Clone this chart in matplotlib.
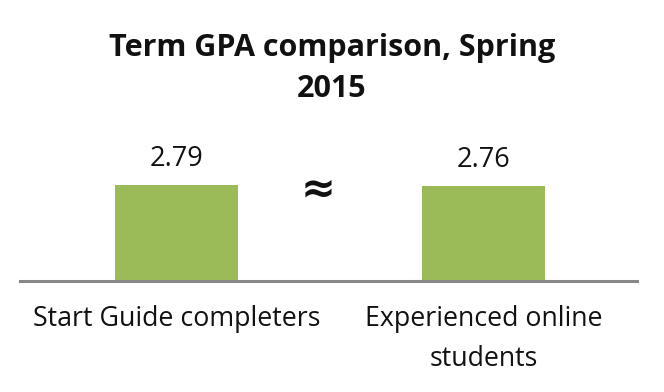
import matplotlib
matplotlib.use("Agg")
import matplotlib.pyplot as plt

categories = ["Start Guide completers", "Experienced online\nstudents"]
gpa = [2.79, 2.76]
value_labels = ["2.79", "2.76"]
title = "Term GPA comparison, Spring\n2015"

plt.rcParams["font.family"] = ["Open Sans", "DejaVu Sans"]

fig = plt.figure(figsize=(6.64, 3.92), dpi=100)
ax = fig.add_axes([0.0, 0.283, 1.0, 0.307])

x = list(range(len(categories)))
ax.bar(x, gpa, width=0.4, color="#9BBB59", zorder=2)

ax.set_xlim(-0.576, 1.587)
ax.set_ylim(0, 2.79 * 120.4 / 96 / 1.0)

for xi, val, lab in zip(x, gpa, value_labels):
    ax.annotate(lab, (xi, val), xytext=(0, 9), textcoords="offset points",
                ha="center", va="bottom", fontsize=19.5, color="#111111")

ax.annotate("≈", (0.46, max(gpa)), xytext=(0, -3), textcoords="offset points",
            ha="center", va="center", fontsize=30, fontweight="bold",
            color="#111111", family=["DejaVu Sans"])

ax.axhline(0, xmin=(-0.51 + 0.576) / 2.163, xmax=(1.50 + 0.576) / 2.163,
           color="#878787", linewidth=2.2, zorder=3, clip_on=False)

for s in ax.spines.values():
    s.set_visible(False)
ax.set_yticks([])
ax.set_xticks(x)
ax.set_xticklabels(categories, fontsize=19.3, color="#111111", linespacing=1.58,
                   va="top")
ax.tick_params(axis="x", length=0, pad=17)

fig.text(0.5, 0.917, title, ha="center", va="top", fontsize=22,
         fontweight="bold", color="#111111", linespacing=1.52)

fig.savefig("out.png", dpi=100)
